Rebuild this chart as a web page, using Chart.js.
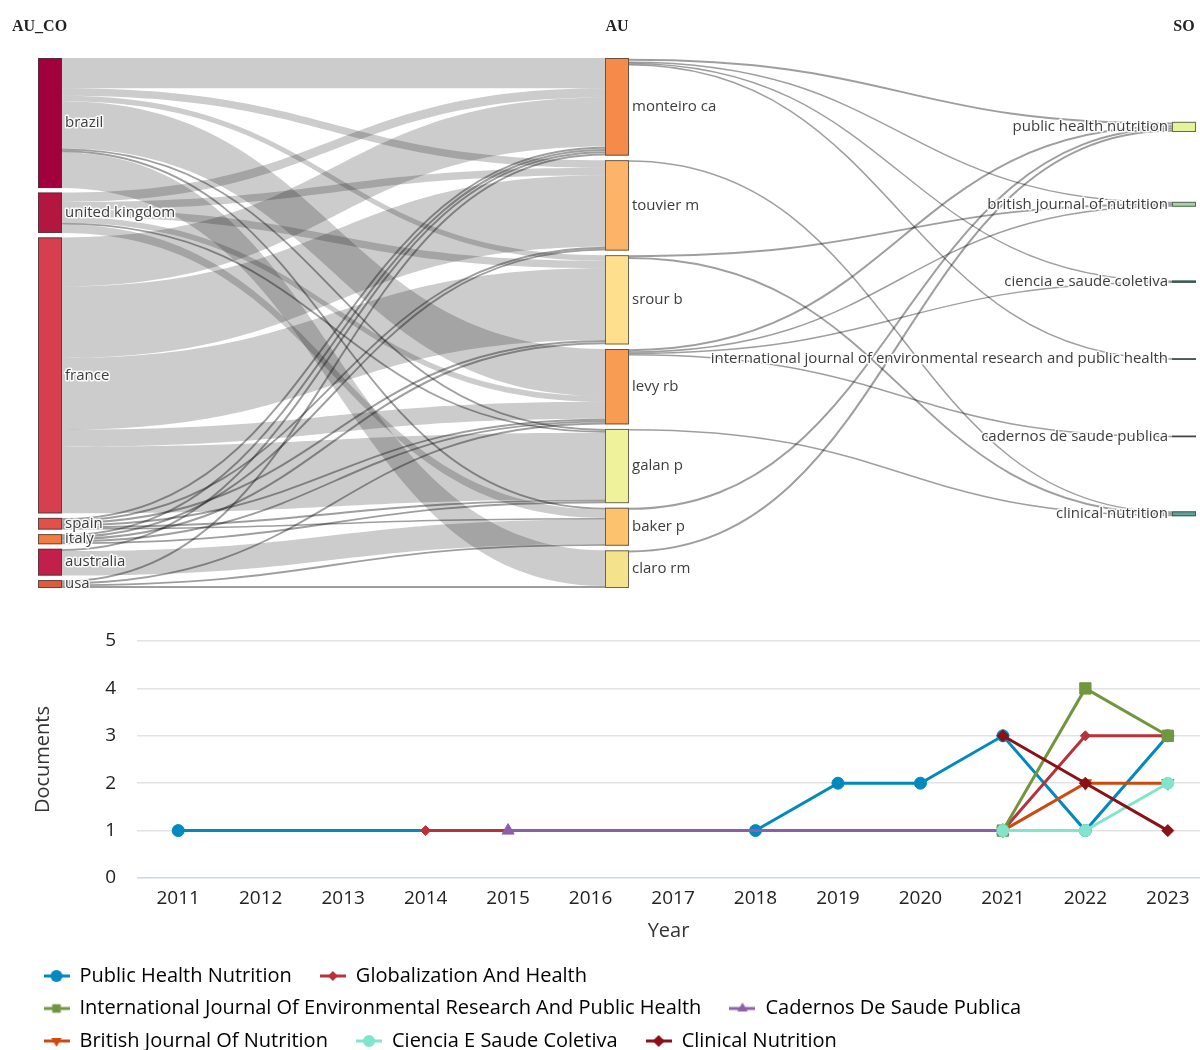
<!DOCTYPE html>
<html>
<head>
<meta charset="utf-8">
<script src="https://cdn.jsdelivr.net/npm/chart.js@4.4.1/dist/chart.umd.min.js"></script>
<style>
  html, body { margin: 0; padding: 0; background: #fff; overflow: hidden; }
  #wrap { width: 1200px; height: 1050px; overflow: hidden; }
  canvas { display: block; }
</style>
</head>
<body>
<div id="wrap">
  <canvas id="sankeyChart" width="1200" height="600"></canvas>
  <canvas id="trendChart" width="1200" height="461"></canvas>
</div>
<script>
"use strict";

// ---- three field plot: AU_CO -> AU -> SO ----
const countries = ["brazil", "united kingdom", "france", "spain", "italy", "australia", "usa"];
const authors = ["monteiro ca", "touvier m", "srour b", "levy rb", "galan p", "baker p", "claro rm"];
const journals = ["public health nutrition", "british journal of nutrition", "ciencia e saude coletiva",
    "international journal of environmental research and public health", "cadernos de saude publica",
    "clinical nutrition"];

// rows = countries, columns = authors
const countryAuthor = [
    [8, 2, 1.5, 12.5, 0.5, 0.5, 9.5],
    [2.5, 2, 2, 1.5, 0.5, 2.2, 0],
    [13, 19, 19, 4.5, 17.7, 0, 0],
    [0.6, 0.5, 0.6, 0.5, 0.5, 0.4, 0],
    [0.6, 0.5, 0.6, 0.5, 0.5, 0, 0],
    [0.6, 0, 0, 0, 0, 6.5, 0],
    [0.6, 0, 0, 0.5, 0, 0.5, 0.5]
];

// rows = authors, columns = journals
const authorJournal = [
    [0.9, 0.4, 0.3, 0.4, 0, 0],
    [0, 0, 0, 0, 0, 0.4],
    [0, 0.5, 0, 0, 0, 0.5],
    [0.6, 0.4, 0.3, 0, 0.4, 0],
    [0, 0, 0, 0, 0, 0.4],
    [0.6, 0, 0, 0, 0, 0],
    [0.6, 0, 0, 0, 0, 0]
];

// ---- sources' production over time ----
const years = [2011, 2012, 2013, 2014, 2015, 2016, 2017, 2018, 2019, 2020, 2021, 2022, 2023];
const trendNames = ["Public Health Nutrition", "Globalization And Health",
    "International Journal Of Environmental Research And Public Health", "Cadernos De Saude Publica",
    "British Journal Of Nutrition", "Ciencia E Saude Coletiva", "Clinical Nutrition"];
const phnDocs      = [1, null, null, null, null, null, null, 1, 2, 2, 3, 1, 3];
const globDocs     = [null, null, null, 1, null, null, null, null, null, null, 1, 3, 3];
const ijerphDocs   = [null, null, null, null, null, null, null, null, null, null, 1, 4, 3];
const cadernosDocs = [null, null, null, null, 1, null, null, null, null, null, 1, null, null];
const bjnDocs      = [null, null, null, null, null, null, null, null, null, null, 1, 2, 2];
const cscDocs      = [null, null, null, null, null, null, null, null, null, null, 1, 1, 2];
const clinDocs     = [null, null, null, null, null, null, null, null, null, null, 3, 2, 1];
const trendValues = [phnDocs, globDocs, ijerphDocs, cadernosDocs, bjnDocs, cscDocs, clinDocs];


// styles
const countryColors = ["#a2003c", "#b3173f", "#d83f4e", "#e35049", "#f07c41", "#c21f4a", "#df5b3f"];
const authorColors = ["#f68a4a", "#fdb469", "#fedf8d", "#f89b53", "#eff29a", "#fdc26e", "#f4e28c"];
const journalColors = ["#e6f39a", "#a2d7a2", "#3c7f6e", "#4b6b66", "#4e5f63", "#5ba596"];
const trendLooks = [
    { color: "#0289bd", shape: "circle", r: 6 },
    { color: "#b8323a", shape: "rectRot", r: 5 },
    { color: "#71963f", shape: "rect", r: 8 },
    { color: "#8d5fa8", shape: "triangle", r: 7 },
    { color: "#cc4a0f", shape: "triangle", r: 7, rot: 180 },
    { color: "#80e5cc", shape: "circle", r: 6 },
    { color: "#8b1116", shape: "rectRot", r: 6 }
];

const nodeGap = 1.2;       // value units between nodes of a column
const nodeWidth = 24;      // px
const labelFont = '15px "Open Sans"';

function sum(arr) { return arr.reduce((s, v) => s + v, 0); }
function colSum(m, j) { return m.reduce((s, r) => s + r[j], 0); }

const leftSize = countryAuthor.map(sum);
const midSize = authors.map((a, j) => Math.max(colSum(countryAuthor, j), sum(authorJournal[j])));
const rightSize = journals.map((s, k) => colSum(authorJournal, k));

const total = Math.max(sum(leftSize) + nodeGap * (leftSize.length - 1),
                       sum(midSize) + nodeGap * (midSize.length - 1));

function stackColumn(sizes) {
    let y = (total - sum(sizes) - nodeGap * (sizes.length - 1)) / 2;
    return sizes.map(s => {
        const n = { y0: y, y1: y + s };
        y += s + nodeGap;
        return n;
    });
}

// the thin last column is spread over the middle part of the height
function spreadColumn(sizes) {
    const a = total * 0.13, b = total * 0.86;
    return sizes.map((s, k) => {
        const c = a + k * (b - a) / (sizes.length - 1);
        return { y0: c - s / 2, y1: c + s / 2 };
    });
}

const leftNodes = stackColumn(leftSize);
const midNodes = stackColumn(midSize);
const rightNodes = spreadColumn(rightSize);

function buildLinks(matrix, src, tgt, col) {
    const grid = matrix.map(r => r.map(() => null));
    const out = src.map(n => n.y0);
    matrix.forEach((row, i) => row.forEach((v, j) => {
        if (v > 0) {
            grid[i][j] = { v: v, col: col, sy: out[i] };
            out[i] += v;
        }
    }));
    const inn = tgt.map(n => n.y0);
    const links = [];
    for (let j = 0; j < tgt.length; j++) {
        for (let i = 0; i < src.length; i++) {
            const l = grid[i][j];
            if (!l) continue;
            l.ty = inn[j];
            inn[j] += l.v;
            links.push(l);
        }
    }
    return links;
}

const allLinks = buildLinks(countryAuthor, leftNodes, midNodes, 0)
    .concat(buildLinks(authorJournal, midNodes, rightNodes, 1));

function drawLabel(ctx, text, x, y, align) {
    ctx.font = labelFont;
    ctx.textAlign = align;
    ctx.textBaseline = "middle";
    ctx.lineJoin = "round";
    ctx.lineWidth = 3;
    ctx.strokeStyle = "rgba(255,255,255,0.9)";
    ctx.strokeText(text, x, y);
    ctx.fillStyle = "#3d3d3d";
    ctx.fillText(text, x, y);
}

const sankeyPlugin = {
    id: "sankeyPlugin",
    afterDraw(chart) {
        const ctx = chart.ctx;
        const xs = chart.scales.x, ys = chart.scales.y;
        ctx.save();

        // links
        allLinks.forEach(l => {
            const x0 = xs.getPixelForValue(l.col) + nodeWidth;
            const x1 = xs.getPixelForValue(l.col + 1);
            const xm = (x0 + x1) / 2;
            const a0 = ys.getPixelForValue(l.sy), a1 = ys.getPixelForValue(l.sy + l.v);
            const b0 = ys.getPixelForValue(l.ty), b1 = ys.getPixelForValue(l.ty + l.v);
            const w = Math.abs(a1 - a0);
            if (w < 4) {
                const ya = (a0 + a1) / 2, yb = (b0 + b1) / 2;
                ctx.beginPath();
                ctx.moveTo(x0, ya);
                ctx.bezierCurveTo(xm, ya, xm, yb, x1, yb);
                ctx.lineWidth = Math.min(Math.max(w, 1.4), 2);
                ctx.strokeStyle = "rgba(0,0,0,0.38)";
                ctx.stroke();
            } else {
                ctx.beginPath();
                ctx.moveTo(x0, a0);
                ctx.bezierCurveTo(xm, a0, xm, b0, x1, b0);
                ctx.lineTo(x1, b1);
                ctx.bezierCurveTo(xm, b1, xm, a1, x0, a1);
                ctx.closePath();
                ctx.fillStyle = "rgba(0,0,0,0.2)";
                ctx.fill();
            }
        });

        // nodes
        const columns = [
            { nodes: leftNodes, names: countries, colors: countryColors },
            { nodes: midNodes, names: authors, colors: authorColors },
            { nodes: rightNodes, names: journals, colors: journalColors }
        ];
        columns.forEach((c, ci) => {
            const x = xs.getPixelForValue(ci);
            c.nodes.forEach((n, k) => {
                const top = ys.getPixelForValue(n.y0), bot = ys.getPixelForValue(n.y1);
                ctx.fillStyle = c.colors[k];
                ctx.fillRect(x, top, nodeWidth, Math.max(bot - top, 1));
                ctx.lineWidth = 1;
                ctx.strokeStyle = "rgba(60,60,60,0.75)";
                ctx.strokeRect(x + 0.5, top + 0.5, nodeWidth - 1, Math.max(bot - top - 1, 0.5));
            });
        });
        columns.forEach((c, ci) => {
            const x = xs.getPixelForValue(ci);
            c.nodes.forEach((n, k) => {
                const mid = ys.getPixelForValue((n.y0 + n.y1) / 2);
                if (ci < 2) drawLabel(ctx, c.names[k], x + nodeWidth + 3, mid, "left");
                else drawLabel(ctx, c.names[k], x - 4, mid, "right");
            });
        });

        // column headers
        ctx.font = 'bold 16px "Liberation Serif"';
        ctx.fillStyle = "#222";
        ctx.textBaseline = "middle";
        const hy = chart.chartArea.top - 31;
        ctx.textAlign = "left";
        ctx.fillText("AU_CO", 12, hy);
        ctx.textAlign = "center";
        ctx.fillText("AU", xs.getPixelForValue(1) + nodeWidth / 2, hy);
        ctx.fillText("SO", xs.getPixelForValue(2) + nodeWidth / 2, hy);
        ctx.restore();
    }
};

new Chart(document.getElementById("sankeyChart"), {
    type: "scatter",
    data: { datasets: [{ data: [] }] },
    options: {
        responsive: false,
        animation: false,
        devicePixelRatio: 1,
        layout: { padding: { left: 38, right: 28, top: 58, bottom: 12 } },
        scales: {
            x: { type: "linear", min: 0, max: 2, display: false },
            y: { type: "linear", min: 0, max: total, reverse: true, display: false }
        },
        plugins: { legend: { display: false }, tooltip: { enabled: false } }
    },
    plugins: [sankeyPlugin]
});


// ---- line chart ----
function markerPath(g, shape, x, y, r, rot) {
    g.beginPath();
    if (shape === "circle") {
        g.arc(x, y, r, 0, Math.PI * 2);
    } else if (shape === "rect") {
        const s = r * Math.SQRT1_2;
        g.rect(x - s, y - s, 2 * s, 2 * s);
    } else if (shape === "rectRot") {
        g.moveTo(x, y - r); g.lineTo(x + r, y); g.lineTo(x, y + r); g.lineTo(x - r, y);
    } else {
        const d = rot ? -1 : 1;
        g.moveTo(x, y - d * r);
        g.lineTo(x + r * 0.87, y + d * r * 0.5);
        g.lineTo(x - r * 0.87, y + d * r * 0.5);
    }
    g.closePath();
}

function legendIcon(look) {
    const c = document.createElement("canvas");
    c.width = 26; c.height = 16;
    const g = c.getContext("2d");
    g.strokeStyle = look.color;
    g.lineWidth = 3;
    g.beginPath(); g.moveTo(0, 8); g.lineTo(26, 8); g.stroke();
    g.fillStyle = look.color;
    markerPath(g, look.shape, 13, 8, Math.min(look.r, 6), look.rot);
    g.fill();
    return c;
}
const legendIcons = trendLooks.map(legendIcon);

const trendSets = trendNames.map((name, i) => ({
    label: name,
    data: years.map((yr, k) => ({ x: yr, y: trendValues[i][k] })),
    borderColor: trendLooks[i].color,
    backgroundColor: trendLooks[i].color,
    borderWidth: 3,
    pointStyle: trendLooks[i].shape,
    pointRotation: trendLooks[i].rot || 0,
    pointRadius: trendLooks[i].r,
    pointBorderWidth: 1,
    spanGaps: true,
    clip: false,
    order: -i
}));

const fontFam = "Open Sans";

new Chart(document.getElementById("trendChart"), {
    type: "line",
    data: { datasets: trendSets },
    options: {
        responsive: false,
        animation: false,
        devicePixelRatio: 1,
        layout: { autoPadding: false, padding: { left: 31, right: 0, top: 41, bottom: 0 } },
        scales: {
            x: {
                type: "linear",
                min: 2010.5,
                max: 2023.39,
                afterBuildTicks: s => { s.ticks = years.map(v => ({ value: v })); },
                afterFit: s => { s.paddingLeft = 0; s.paddingRight = 0; s.height = 75.5; },
                grid: { display: false, drawTicks: false },
                border: { display: false },
                ticks: {
                    padding: 9, color: "#222", autoSkip: false, maxRotation: 0,
                    font: { family: fontFam, size: 19 },
                    callback: v => String(v)
                },
                title: {
                    display: true, text: "Year", color: "#333",
                    font: { family: fontFam, size: 20 },
                    padding: { top: 4, bottom: 10 }
                }
            },
            y: {
                min: 0,
                max: 5,
                afterFit: s => { s.width = 106; },
                ticks: { stepSize: 1, padding: 21, color: "#222", font: { family: fontFam, size: 19 } },
                grid: {
                    drawTicks: false,
                    lineWidth: 1.5,
                    color: c => (c.tick && c.tick.value === 0) ? "#ccd6eb" : "#e3e3e3"
                },
                border: { display: false },
                title: {
                    display: true, text: "Documents", color: "#333",
                    font: { family: fontFam, size: 20 },
                    padding: { top: 0, bottom: 10 }
                }
            }
        },
        plugins: {
            tooltip: { enabled: false },
            legend: {
                position: "bottom",
                align: "start",
                labels: {
                    usePointStyle: true,
                    pointStyleWidth: 26,
                    padding: 12.5,
                    color: "#222",
                    font: { family: fontFam, size: 20 },
                    generateLabels: chart => chart.data.datasets.map((ds, i) => ({
                        text: ds.label + "   ",
                        pointStyle: legendIcons[i],
                        fillStyle: ds.borderColor,
                        strokeStyle: ds.borderColor,
                        lineWidth: 0,
                        hidden: false,
                        datasetIndex: i
                    }))
                }
            }
        }
    }
});
</script>
</body>
</html>
